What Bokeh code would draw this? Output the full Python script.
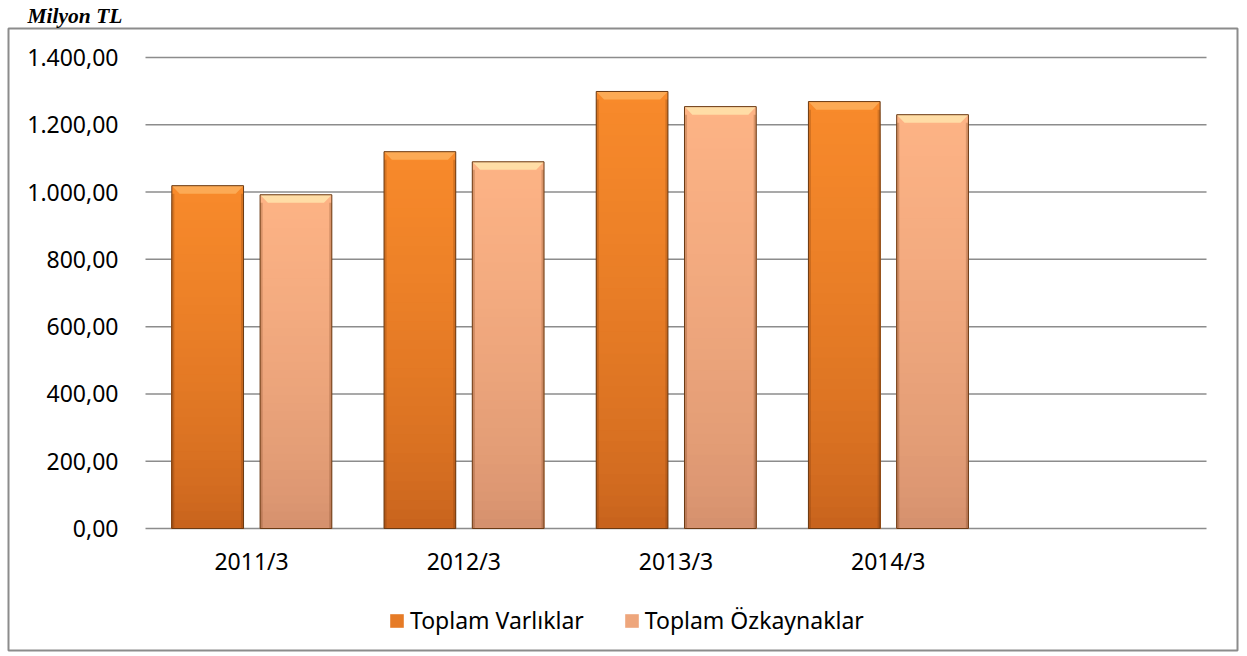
import numpy as np
from bokeh.plotting import figure
from bokeh.models import (Range1d, FixedTicker, Legend, LegendItem, Title)
from bokeh.embed import file_html
from bokeh.resources import INLINE

# ---------------- data ----------------
categories = ["2011/3", "2012/3", "2013/3", "2014/3"]
toplam_varliklar = [1019, 1120, 1299, 1269]
toplam_ozkaynaklar = [992, 1090, 1254, 1230]
series_names = ["Toplam Varlıklar", "Toplam Özkaynaklar"]
y_ticks = [0, 200, 400, 600, 800, 1000, 1200, 1400]
y_tick_labels = ["0,00", "200,00", "400,00", "600,00", "800,00",
                 "1.000,00", "1.200,00", "1.400,00"]
unit_label = "Milyon TL"
n_slots = 5  # the category axis has one empty slot at the end

# ---------------- styles / layout ----------------
FONT = "Noto Sans"
FS = "23px"
BAR_W = 0.338
OFFSETS = [-0.207, 0.209]
GRAD = [((196, 96, 28), (248, 138, 43)), ((210, 142, 108), (253, 179, 133))]
BEVEL = ["#FCAA55", "#FFDDA6"]
EDGE = "#6a3a14"
N = 40
BEVEL_H = 24      # bevel height in value units (about 8 px)
BEVEL_D = 0.037   # bevel inset in slot units (about 8 px)
SIDE_W = 0.012

# outer box of the chart = plot frame; plot area sits inside it
X_START, X_END = -0.6456, 5.146
Y_START, Y_END = -362.6, 1486.2

p = figure(width=1247, height=656, output_backend="svg", toolbar_location=None,
           x_range=Range1d(X_START, X_END), y_range=Range1d(Y_START, Y_END),
           min_border_left=8, min_border_right=10, min_border_top=28,
           min_border_bottom=6)
p.outline_line_color = "#8c8c8c"
p.outline_line_width = 2
p.background_fill_color = "white"
p.border_fill_color = "white"

p.title = Title(text=unit_label, align="left", offset=19, standoff=1,
                text_font="Liberation Serif", text_font_style="bold italic",
                text_font_size="21.5px", text_color="black")

# gridlines across the plot area only
p.segment(x0=[0] * len(y_ticks), x1=[n_slots] * len(y_ticks), y0=y_ticks, y1=y_ticks,
          line_color="#8c8c8c", line_width=1.5)


def hexc(c):
    return "#%02x%02x%02x" % tuple(int(round(v)) for v in c)


grad_renderers = []
for s, vals in enumerate([toplam_varliklar, toplam_ozkaynaklar]):
    lo, hi = np.array(GRAD[s][0], float), np.array(GRAD[s][1], float)
    xc = [i + 0.5 + OFFSETS[s] for i in range(len(vals))]
    xs, tops, cols = [], [], []
    for x, v in zip(xc, vals):
        edges = np.linspace(0, v, N + 1)
        for k in range(N - 1, -1, -1):
            f = ((k + 0.5) / N) ** 0.6
            xs.append(x)
            tops.append(edges[k + 1])
            cols.append(hexc(lo + (hi - lo) * f))
    grad_renderers.append(
        p.vbar(x=xs, bottom=0, top=tops, width=BAR_W, fill_color=cols, line_color=None))
    # darker side shading
    side_x = [x + sgn * (BAR_W / 2 - SIDE_W / 2) for x in xc for sgn in (-1, 1)]
    side_top = [v - BEVEL_H for v in vals for _ in (0, 1)]
    p.vbar(x=side_x, bottom=0, top=side_top, width=SIDE_W, fill_color="#5a2a08",
           fill_alpha=0.22, line_color=None)
    # top bevel (trapezoid)
    bx = [[x - BAR_W / 2, x + BAR_W / 2, x + BAR_W / 2 - BEVEL_D, x - BAR_W / 2 + BEVEL_D]
          for x in xc]
    by = [[v, v, v - BEVEL_H, v - BEVEL_H] for v in vals]
    p.patches(xs=bx, ys=by, fill_color=BEVEL[s], line_color=None)
    # outline
    p.vbar(x=xc, top=vals, bottom=0, width=BAR_W, fill_color=None,
           line_color=EDGE, line_width=1)

leg_items = [LegendItem(label=series_names[s], renderers=[grad_renderers[s]], index=N // 2)
             for s in range(2)]
legend = Legend(items=leg_items, location=(380, 14), orientation="horizontal",
                glyph_width=17, glyph_height=17, label_standoff=5, spacing=39,
                padding=0, margin=0, border_line_color=None, background_fill_alpha=0,
                label_text_font=FONT, label_text_font_size=FS, label_text_color="black")
p.add_layout(legend, "center")

# axes drawn inside the outer box
p.yaxis.fixed_location = 0
p.xaxis.fixed_location = 0
p.yaxis.ticker = FixedTicker(ticks=y_ticks)
p.yaxis.major_label_overrides = {t: l for t, l in zip(y_ticks, y_tick_labels)}
p.xaxis.ticker = FixedTicker(ticks=[i + 0.5 for i in range(len(categories))])
p.xaxis.major_label_overrides = {i + 0.5: c for i, c in enumerate(categories)}
for ax in (p.xaxis, p.yaxis):
    ax.axis_line_color = None
    ax.major_tick_line_color = None
    ax.minor_tick_line_color = None
    ax.major_label_text_font = FONT
    ax.major_label_text_font_size = FS
    ax.major_label_text_color = "black"
p.yaxis.major_label_standoff = 21
p.xaxis.major_label_standoff = 10

p.xgrid.grid_line_color = None
p.ygrid.grid_line_color = None

open("out.html", "w").write(file_html(p, INLINE))
